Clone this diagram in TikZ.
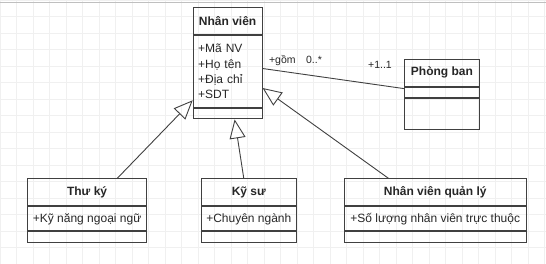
\documentclass[tikz,border=0pt]{standalone}
\usepackage{fontspec}
\setmainfont{Liberation Sans}
\usetikzlibrary{arrows.meta}

\begin{document}
\begin{tikzpicture}[x=1pt,y=-1pt,>={Triangle[open,length=19pt,width=16pt]},
  box/.style={draw=black!75,line width=0.9pt,anchor=north west,inner sep=0pt,text=black!85,
    font=\fontsize{12}{15.3}\selectfont},
  cname/.style={box,font=\fontsize{12}{15.3}\selectfont\bfseries},
  cattr/.style={box,minimum width=#1},
  cfoot/.style={box},
  gen/.style={->,draw=black!75,line width=0.9pt},
  lbl/.style={inner sep=0pt,text=black!85,font=\fontsize{10.5}{12}\selectfont}]
  \useasboundingbox (0,0) rectangle (546,264);
  \draw[black!6,line width=0.5pt] (0,264) grid[step=16.5pt] (546,0);
  \draw[black!25] (0,2) -- (546,2);
  \def\Wnv{69}\def\Wpb{75}\def\Wtk{118.7}\def\Wks{95.3}\def\Wql{181.5}
  \node[cname,minimum width=\Wnv,minimum height=27] (nv) at (192.7,7.3) {Nhân viên};
  \node[box,align=left,inner xsep=5pt,text width=59pt,minimum height=71.7] (nvattr) at (nv.south west) {+Mã NV\\+Họ tên\\+Địa chỉ\\+SDT};
  \node[cfoot,minimum width=\Wnv,minimum height=10.7] (nvfoot) at (nvattr.south west) {};
  \node[cname,minimum width=\Wpb,minimum height=26.7] (pb) at (404,59) {Phòng ban};
  \node[cfoot,minimum width=\Wpb,minimum height=10.6] (pbmid) at (pb.south west) {};
  \node[cfoot,minimum width=\Wpb,minimum height=31.4] (pbfoot) at (pbmid.south west) {};
  \node[cname,minimum width=\Wtk,minimum height=27] (tk) at (27.3,178.5) {Thư ký};
  \node[cattr=\Wtk,minimum height=24] (tkattr) at (tk.south west) {+Kỹ năng ngoại ngữ};
  \node[cfoot,minimum width=\Wtk,minimum height=10.5] (tkfoot) at (tkattr.south west) {};
  \node[cname,minimum width=\Wks,minimum height=27] (ks) at (200.7,178.5) {Kỹ sư};
  \node[cattr=\Wks,minimum height=24] (ksattr) at (ks.south west) {+Chuyên ngành};
  \node[cfoot,minimum width=\Wks,minimum height=10.5] (ksfoot) at (ksattr.south west) {};
  \node[cname,minimum width=\Wql,minimum height=27] (ql) at (344,178.5) {Nhân viên quản lý};
  \node[cattr=\Wql,minimum height=24] (qlattr) at (ql.south west) {+Số lượng nhân viên trực thuộc};
  \node[cfoot,minimum width=\Wql,minimum height=10.5] (qlfoot) at (qlattr.south west) {};
  \draw[gen] ([xshift=30pt]tk.north) -- ([yshift=-28.8pt]nvattr.west);
  \draw[gen] ([xshift=-5pt]ks.north) -- ([xshift=7pt]nvfoot.south);
  \draw[gen] ([xshift=-46.5pt]ql.north) -- ([yshift=-16.5pt]nvattr.east);
  \draw[draw=black!75,line width=0.9pt] ([yshift=3pt]nvattr.east) -- ([yshift=-2pt]pb.south west);
  \node[lbl,anchor=base west] (gom) at ([xshift=6.3pt,yshift=-28pt]nvattr.north east) {+gồm\quad0..*};
  \node[lbl,anchor=base east] (mot) at ([xshift=-12pt,yshift=-9.3pt]pb.north west) {+1..1};
\end{tikzpicture}
\end{document}
